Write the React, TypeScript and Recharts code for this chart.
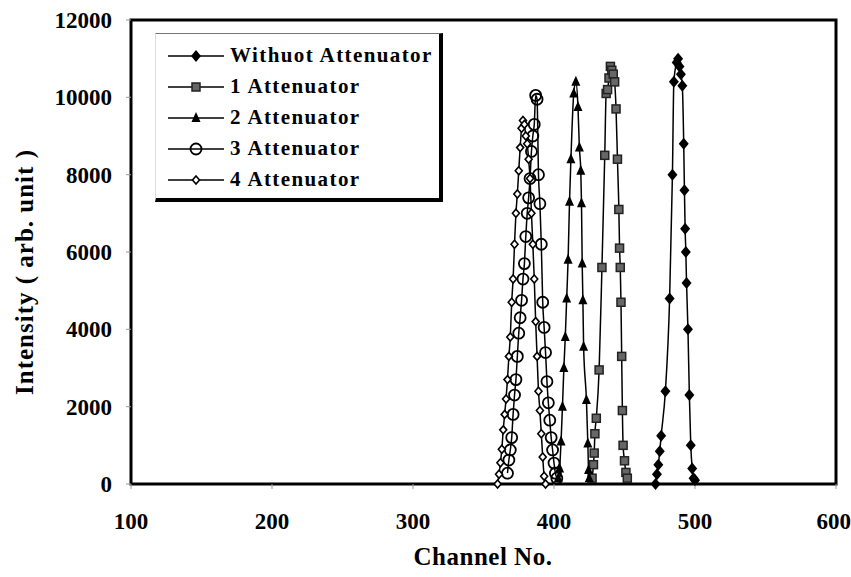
import React from 'react';
import { LineChart, Line, XAxis, YAxis, ReferenceArea, Label } from 'recharts';

const xTicks = [100, 200, 300, 400, 500, 600];
const yTicks = [0, 2000, 4000, 6000, 8000, 10000, 12000];

// Withuot Attenuator (filled diamonds)
const withoutCh = [472, 473, 474, 475, 476, 479, 482, 484, 485, 487, 488, 489, 490, 491, 492, 492.5, 493, 493.5, 494, 495, 496, 497, 498, 499, 500];
const withoutVal = [0, 250, 500, 850, 1250, 2400, 4800, 8000, 10400, 10900, 11000, 10800, 10600, 10300, 8800, 7600, 6600, 6000, 5200, 4000, 2300, 1000, 400, 150, 100];

// 1 Attenuator (grey squares)
const att1Ch = [427, 428, 428.5, 429, 430, 432, 434, 436, 437, 438, 439, 440, 441, 442, 443, 444, 445, 446, 446.5, 447, 447.5, 448, 448.5, 449, 450, 451, 452];
const att1Val = [150, 500, 800, 1300, 1700, 2950, 5600, 8500, 10100, 10200, 10500, 10800, 10700, 10600, 10400, 9700, 8400, 7100, 6100, 5600, 4700, 3300, 1900, 1000, 600, 300, 150];

// 2 Attenuator (filled triangles)
const att2Ch = [403, 404, 405, 406, 407, 408, 409, 410, 411, 412, 414, 415.5, 417, 418, 419, 419.5, 420, 420.5, 421, 423, 424, 424.5, 425];
const att2Val = [150, 400, 1100, 2000, 3000, 3800, 4800, 5800, 7300, 8400, 10100, 10400, 9750, 8700, 8100, 7260, 5700, 4750, 3550, 2170, 1050, 360, 150];

// 3 Attenuator (open circles)
const att3Ch = [367, 368, 369, 370, 371, 372, 373, 374, 375, 376, 377, 378, 379, 380, 381, 382, 383, 384, 385, 386, 387, 388, 389, 390, 391, 392, 393, 394, 395, 396, 397, 398, 399, 400, 401, 402];
const att3Val = [280, 620, 880, 1200, 1800, 2300, 2700, 3300, 3900, 4300, 4750, 5300, 5700, 6400, 7000, 7400, 7900, 8600, 9000, 9300, 10050, 9950, 8000, 7250, 6200, 4700, 4050, 3400, 2650, 2100, 1650, 1200, 880, 540, 280, 150];

// 4 Attenuator (small open diamonds)
const att4Ch = [360, 361, 362, 363, 364, 365, 366, 367, 368, 369, 370, 371, 372, 373, 374, 375, 376, 377, 378, 379, 380, 381, 382, 383, 384, 385, 386, 387, 388, 389, 390, 391, 392, 393, 394];
const att4Val = [0, 250, 550, 900, 1400, 1800, 2200, 2700, 3300, 3800, 4700, 5300, 6200, 7000, 7500, 8100, 8700, 9200, 9400, 9300, 9000, 8800, 8400, 7900, 7000, 6200, 5300, 4200, 3300, 2400, 1900, 1300, 700, 200, 0];

const zip = (xs: number[], ys: number[]) => xs.map((x, i) => ({ x, y: ys[i] }));

type MarkerKind = 'diamond' | 'square' | 'triangle' | 'circle' | 'smallDiamond';

const series: { name: string; kind: MarkerKind; data: { x: number; y: number }[] }[] = [
  { name: 'Withuot Attenuator', kind: 'diamond', data: zip(withoutCh, withoutVal) },
  { name: '1 Attenuator', kind: 'square', data: zip(att1Ch, att1Val) },
  { name: '2 Attenuator', kind: 'triangle', data: zip(att2Ch, att2Val) },
  { name: '3 Attenuator', kind: 'circle', data: zip(att3Ch, att3Val) },
  { name: '4 Attenuator', kind: 'smallDiamond', data: zip(att4Ch, att4Val) },
];

const FONT = "'Liberation Serif', 'Times New Roman', serif";

const Marker = ({ kind, cx, cy }: { kind: MarkerKind; cx: number; cy: number }) => {
  switch (kind) {
    case 'diamond':
      return <path d={`M${cx},${cy - 6} L${cx + 5},${cy} L${cx},${cy + 6} L${cx - 5},${cy} Z`} fill="#000" />;
    case 'square':
      return <rect x={cx - 4} y={cy - 4} width={8} height={8} fill="#666" stroke="#222" strokeWidth={1.5} />;
    case 'triangle':
      return <path d={`M${cx},${cy - 6} L${cx + 4.5},${cy + 4} L${cx - 4.5},${cy + 4} Z`} fill="#000" />;
    case 'circle':
      return <circle cx={cx} cy={cy} r={5.5} fill="none" stroke="#000" strokeWidth={1.8} />;
    case 'smallDiamond':
      return <path d={`M${cx},${cy - 4} L${cx + 3.5},${cy} L${cx},${cy + 4} L${cx - 3.5},${cy} Z`} fill="#fff" stroke="#000" strokeWidth={1.6} />;
  }
};

const LegendBox = () => (
  <div
    style={{
      position: 'absolute',
      left: 155,
      top: 33,
      width: 283,
      height: 158,
      borderTop: '1px solid #777',
      borderLeft: '1px solid #ddd',
      borderRight: '4px solid #000',
      borderBottom: '4px solid #000',
      background: '#fff',
      boxSizing: 'content-box',
      paddingTop: 6,
    }}
  >
    {series.map((s) => (
      <div key={s.name} style={{ display: 'flex', alignItems: 'center', height: 31 }}>
        <svg width={62} height={20} style={{ marginLeft: 12 }}>
          <line x1={0} y1={10} x2={56} y2={10} stroke="#000" strokeWidth={1.5} />
          <Marker kind={s.kind} cx={28} cy={10} />
        </svg>
        <span style={{ fontFamily: FONT, fontWeight: 'bold', fontSize: 21, letterSpacing: 1.4, color: '#000' }}>{s.name}</span>
      </div>
    ))}
  </div>
);

const App = () => {
  return (
    <div style={{ position: 'absolute', left: 0, top: 0, width: 851, height: 577, background: '#fff' }}>
      <LineChart width={851} height={577} margin={{ top: 20, right: 15, left: 0, bottom: 0 }}>
        <XAxis
          type="number"
          dataKey="x"
          domain={[100, 600]}
          ticks={xTicks}
          allowDataOverflow
          axisLine={false}
          tickLine={{ stroke: '#999' }}
          tickSize={5}
          tickMargin={24}
          height={93}
          tick={{ fontFamily: FONT, fontWeight: 'bold', fontSize: 23, fill: '#000' }}
        >
          <Label
            content={() => (
              <text x={483} y={565} textAnchor="middle" fontFamily={FONT} fontWeight="bold" fontSize={25} letterSpacing={0.5} fill="#000">
                Channel No.
              </text>
            )}
          />
        </XAxis>
        <YAxis
          type="number"
          dataKey="y"
          domain={[0, 12000]}
          ticks={yTicks}
          axisLine={false}
          tickLine={{ stroke: '#999' }}
          tickSize={5}
          tickMargin={14}
          width={131}
          tick={{ fontFamily: FONT, fontWeight: 'bold', fontSize: 23, fill: '#000' }}
        >
          <Label
            content={() => (
              <text x={33} y={272} transform="rotate(-90 33 272)" textAnchor="middle" fontFamily={FONT} fontWeight="bold" fontSize={25} letterSpacing={1} fill="#000">
                Intensity ( arb. unit )
              </text>
            )}
          />
        </YAxis>
        <ReferenceArea x1={100} x2={600} y1={0} y2={12000} fill="none" stroke="#000" strokeWidth={3} />
        {series.map((s) => (
          <Line
            key={s.name}
            data={s.data}
            dataKey="y"
            name={s.name}
            type="monotone"
            stroke="#000"
            strokeWidth={1.5}
            isAnimationActive={false}
            dot={(p: any) => <Marker key={`${s.name}-${p.index}`} kind={s.kind} cx={p.cx} cy={p.cy} />}
            activeDot={false}
          />
        ))}
      </LineChart>
      <LegendBox />
    </div>
  );
};

export default App;
